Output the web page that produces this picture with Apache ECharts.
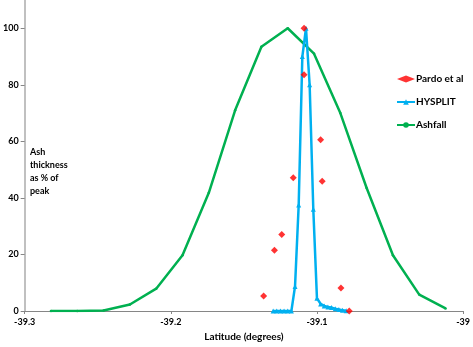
<!DOCTYPE html>
<html lang="en">
<head>
    <meta charset="UTF-8">
    <title>Ash thickness</title>
    <script src="https://cdn.jsdelivr.net/npm/echarts@6/dist/echarts.min.js"></script>
    <style>
        *{margin:0;padding:0;box-sizing:border-box;}
        html,body{width:473px;height:347px;background:#fff;overflow:hidden;}
        #main{width:473px;height:347px;}
    </style>
</head>
<body>
<div id="main"></div>
<script>
    // Pardo et al (red diamonds)
    var pardoLat = [-39.1088, -39.1088, -39.0975, -39.1162, -39.0964, -39.1241, -39.1291, -39.1365, -39.0836, -39.0779]
    var pardoPct = [100, 83.6, 60.6, 47.1, 45.9, 27.1, 21.5, 5.3, 8.1, 0]

    // HYSPLIT
    var hysLat = [-39.130, -39.1275, -39.125, -39.1225, -39.120, -39.1175, -39.115, -39.1125, -39.110, -39.1075,
                  -39.105, -39.1025, -39.100, -39.0975, -39.095, -39.0925, -39.090, -39.0875, -39.085, -39.0825, -39.080]
    var hysPct = [0, 0, 0, 0, 0, 0, 8.7, 37.5, 90, 100,
                  80, 36, 4.5, 2.5, 1.8, 1.4, 1.2, 0.8, 0.5, 0.3, 0.1]

    // Ashfall
    var ashLat = [-39.282, -39.264, -39.246, -39.228, -39.210, -39.192, -39.174, -39.156,
                  -39.138, -39.120, -39.102, -39.084, -39.066, -39.048, -39.030, -39.012]
    var ashPct = [0, 0, 0.2, 2.3, 7.9, 19.7, 41.8, 71, 93.5, 100, 91, 70, 43.5, 19.7, 5.8, 0.9]

    function pairs(xs, ys){
        return xs.map(function(x, i){ return [x, ys[i]] })
    }

    var font = 'Lato, "Liberation Sans", sans-serif'
    var myChart = echarts.init(document.getElementById('main'), null, {renderer:'canvas'})
    var option = {
        animation:false,
        grid:{left:22, right:7, top:0, bottom:32, containLabel:false},
        legend:{
            orient:'vertical',
            left:391, top:69,
            itemWidth:18, itemHeight:7, itemGap:13,
            textStyle:{fontFamily:font, fontSize:10, fontWeight:'bold', color:'#000', padding:[0,0,0,-4]},
            data:[
                {name:'Pardo et al'},
                {name:'HYSPLIT'},
                {name:'Ashfall'}
            ]
        },
        xAxis:{
            type:'value', min:-39.3, max:-39, interval:0.1,
            name:'Latitude (degrees)', nameLocation:'middle', nameGap:21,
            nameTextStyle:{fontFamily:font, fontSize:10, fontWeight:'bold', color:'#000'},
            axisLine:{onZero:false, lineStyle:{color:'#868686', width:1}},
            axisTick:{show:true, length:3, lineStyle:{color:'#868686'}},
            axisLabel:{fontFamily:font, fontSize:9, fontWeight:'bold', color:'#000', margin:7,
                formatter:function(v){ return String(Math.round(v*10)/10) }},
            splitLine:{show:false}
        },
        yAxis:{
            type:'value', min:0, max:110, interval:20,
            axisLine:{show:true, lineStyle:{color:'#c0c0c0', width:2}},
            axisTick:{show:true, length:4, lineStyle:{color:'#868686'}},
            axisLabel:{fontFamily:font, fontSize:9, fontWeight:'bold', color:'#000', margin:6,
                showMaxLabel:false},
            splitLine:{show:false}
        },
        graphic:[{
            type:'text', left:30, top:146,
            style:{text:'Ash\nthickness\nas % of\npeak', font:'bold 9px ' + font, fill:'#000', lineHeight:13}
        }],
        series:[
            {
                name:'Ashfall', type:'line', data:pairs(ashLat, ashPct),
                symbol:'circle', symbolSize:2.5, z:2,
                lineStyle:{color:'#00b050', width:2.5},
                itemStyle:{color:'#00b050'}
            },
            {
                name:'HYSPLIT', type:'line', data:pairs(hysLat, hysPct),
                symbol:'triangle', symbolSize:5, z:3,
                lineStyle:{color:'#00b0f0', width:2.5},
                itemStyle:{color:'#00b0f0'}
            },
            {
                name:'Pardo et al', type:'scatter', data:pairs(pardoLat, pardoPct),
                symbol:'diamond', symbolSize:7, z:4,
                itemStyle:{color:'#ff0000'}
            }
        ]
    }
    myChart.setOption(option)
</script>
</body>
</html>
